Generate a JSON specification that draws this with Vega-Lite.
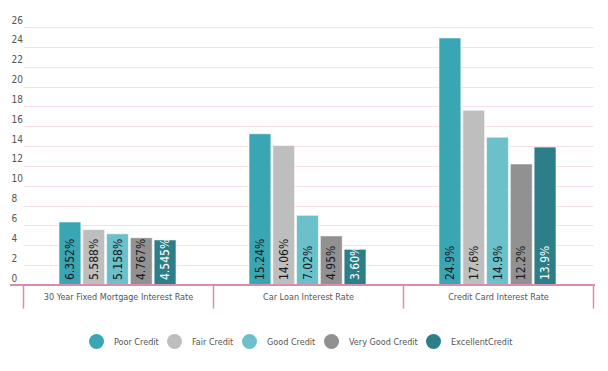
{
  "$schema": "https://vega.github.io/schema/vega-lite/v6.json",
  "width": 585,
  "height": 258,
  "autosize": {"type": "none"},
  "padding": {"left": 10, "top": 27, "right": 13, "bottom": 86},
  "background": "white",
  "config": {
    "view": {"stroke": null},
    "font": "DejaVu Sans Condensed, Roboto, sans-serif"
  },
  "data": {
    "values": [
      {"category": "30 Year Fixed Mortgage Interest Rate", "credit": "Poor Credit", "value": 6.352, "label": "6.352%"},
      {"category": "30 Year Fixed Mortgage Interest Rate", "credit": "Fair Credit", "value": 5.588, "label": "5.588%"},
      {"category": "30 Year Fixed Mortgage Interest Rate", "credit": "Good Credit", "value": 5.158, "label": "5.158%"},
      {"category": "30 Year Fixed Mortgage Interest Rate", "credit": "Very Good Credit", "value": 4.767, "label": "4.767%"},
      {"category": "30 Year Fixed Mortgage Interest Rate", "credit": "ExcellentCredit", "value": 4.545, "label": "4.545%"},
      {"category": "Car Loan Interest Rate", "credit": "Poor Credit", "value": 15.24, "label": "15.24%"},
      {"category": "Car Loan Interest Rate", "credit": "Fair Credit", "value": 14.06, "label": "14.06%"},
      {"category": "Car Loan Interest Rate", "credit": "Good Credit", "value": 7.02, "label": "7.02%"},
      {"category": "Car Loan Interest Rate", "credit": "Very Good Credit", "value": 4.95, "label": "4.95%"},
      {"category": "Car Loan Interest Rate", "credit": "ExcellentCredit", "value": 3.6, "label": "3.60%"},
      {"category": "Credit Card Interest Rate", "credit": "Poor Credit", "value": 24.9, "label": "24.9%"},
      {"category": "Credit Card Interest Rate", "credit": "Fair Credit", "value": 17.6, "label": "17.6%"},
      {"category": "Credit Card Interest Rate", "credit": "Good Credit", "value": 14.9, "label": "14.9%"},
      {"category": "Credit Card Interest Rate", "credit": "Very Good Credit", "value": 12.2, "label": "12.2%"},
      {"category": "Credit Card Interest Rate", "credit": "ExcellentCredit", "value": 13.9, "label": "13.9%"}
    ]
  },
  "encoding": {
    "x": {
      "field": "category",
      "type": "nominal",
      "sort": null,
      "scale": {"range": [13, 583], "paddingInner": 0, "paddingOuter": 0},
      "axis": {
        "title": null,
        "labelAngle": 0,
        "domain": false,
        "tickBand": "extent",
        "ticks": true,
        "tickColor": "#d98cae",
        "tickWidth": 1.5,
        "tickSize": 23,
        "labelPadding": -16,
        "labelBaseline": "top",
        "labelFontSize": 9,
        "labelColor": "#555555"
      }
    },
    "xOffset": {
      "field": "credit",
      "type": "nominal",
      "sort": null,
      "scale": {"range": [36, 153], "paddingInner": 0.08, "paddingOuter": 0}
    },
    "y": {
      "field": "value",
      "type": "quantitative",
      "scale": {"domain": [0, 26], "nice": false, "zero": true},
      "axis": {
        "title": null,
        "values": [0, 2, 4, 6, 8, 10, 12, 14, 16, 18, 20, 22, 24, 26],
        "domain": false,
        "ticks": false,
        "grid": true,
        "gridColor": "#f6e1e9",
        "gridWidth": 1,
        "labelAlign": "left",
        "labelBaseline": "alphabetic",
        "labelPadding": -1,
        "labelOffset": -4,
        "labelFlush": false,
        "labelFontSize": 10,
        "labelColor": "#555555"
      }
    }
  },
  "layer": [
    {
      "mark": {"type": "bar", "stroke": "white", "strokeOpacity": 0.6, "strokeWidth": 1},
      "encoding": {
        "color": {
          "field": "credit",
          "type": "nominal",
          "sort": null,
          "scale": {
            "domain": ["Poor Credit", "Fair Credit", "Good Credit", "Very Good Credit", "ExcellentCredit"],
            "range": ["#3aa6b4", "#bebebe", "#6bc0ca", "#919191", "#2c7e88"]
          },
          "legend": {
            "title": null,
            "orient": "none",
            "legendX": 79,
            "legendY": 307,
            "direction": "horizontal",
            "symbolType": "circle",
            "symbolSize": 225,
            "symbolStrokeWidth": 0,
            "symbolOpacity": 1,
            "labelFontSize": 9,
            "labelColor": "#555555",
            "labelOffset": 10,
            "columnPadding": 8
          }
        }
      }
    },
    {
      "mark": {
        "type": "text",
        "angle": 270,
        "align": "left",
        "baseline": "middle",
        "dx": 5,
        "fontSize": 12
      },
      "encoding": {
        "y": {"datum": 0},
        "text": {"field": "label"},
        "color": {
          "condition": {"test": "datum.credit === 'ExcellentCredit'", "value": "white"},
          "value": "#1a1a1a"
        }
      }
    },
    {
      "mark": {"type": "rule", "color": "#d98cae", "strokeWidth": 2},
      "encoding": {"y": {"datum": 0}, "x": null, "xOffset": null}
    }
  ]
}
